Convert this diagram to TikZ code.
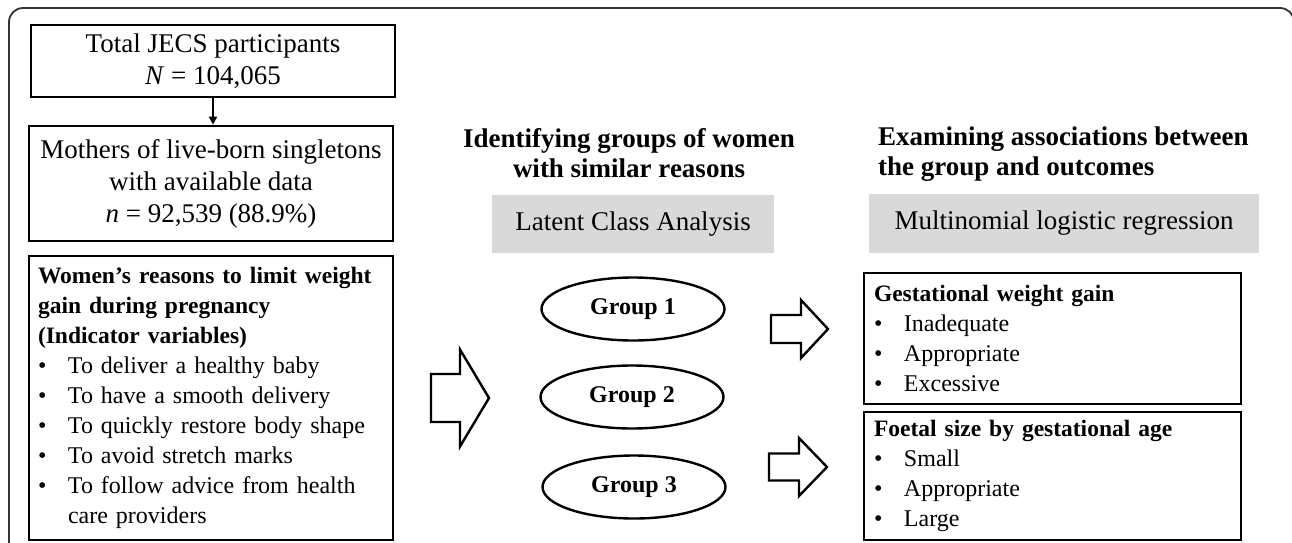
\documentclass[tikz,border=0pt]{standalone}
\usepackage{fontspec}
\setmainfont{Liberation Serif}
\usetikzlibrary{shapes.geometric,arrows.meta}

% bullet line, its continuation and a list title
\newcommand{\itm}[1]{\makebox[30pt][l]{\textbullet}#1}
\newcommand{\cont}[1]{\hspace*{30pt}#1}
\newcommand{\ttl}[1]{\mbox{\fontsize{23.5}{30}\selectfont\bfseries #1}}
% block arrow: left x, mid y, length, head length, shaft half, head half
\newcommand{\fatarrow}[6]{%
  \draw[blockarrow] (#1,{#2-#5}) -- ({#1+#3-#4},{#2-#5}) -- ({#1+#3-#4},{#2-#6})
    -- ({#1+#3},#2) -- ({#1+#3-#4},{#2+#6}) -- ({#1+#3-#4},{#2+#5})
    -- (#1,{#2+#5}) -- cycle;}

\begin{document}
\begin{tikzpicture}[x=1pt, y=-1pt,
    box/.style={draw, line width=2.7pt, inner sep=0pt, align=center,
      minimum width=364pt, font=\fontsize{27}{32}\selectfont},
    listbox/.style={draw, line width=2.7pt, inner xsep=10pt, inner ysep=0pt,
      align=left, font=\fontsize{24}{30}\selectfont},
    heading/.style={font=\fontsize{27}{30}\selectfont\bfseries, inner sep=0pt},
    method/.style={fill=black!15, inner sep=0pt, font=\fontsize{27}{32}\selectfont},
    group/.style={ellipse, draw, line width=2.4pt, inner sep=0pt,
      minimum width=183pt, minimum height=63pt, font=\fontsize{24}{28}\selectfont\bfseries},
    blockarrow/.style={draw, line width=2.4pt, line join=miter},
    frame/.style={draw=black!80, line width=1.8pt, rounded corners=14pt},
  ]
  \useasboundingbox (0,0) rectangle (1292,542);

  % Outer frame
  \begin{scope}
    \clip (0,0) rectangle (1292,542);
    \draw[frame] (9,570) -- (9,8) -- (1294,8) -- (1294,570);
  \end{scope}

  % Study population
  \node[box, minimum height=72pt] (total) at (213,61)
    {Total JECS participants\\\textit{N} = 104,065};
  \node[box, minimum height=115pt] (mothers) at (211,183.5)
    {Mothers of live-born singletons\\with available data\\\textit{n} = 92,539 (88.9\%)};
  \draw[-{Triangle[length=8pt,width=8pt]}, line width=1.8pt]
    (total.south) -- (total.south |- mothers.north);

  % Indicator variables
  \node[listbox, text width=346pt, inner xsep=9pt, minimum height=284pt] (reasons) at (211,398)
    {\ttl{Women’s reasons to limit weight}\\
     \ttl{gain during pregnancy}\\
     \ttl{(Indicator variables)}\\
     \itm{To deliver a healthy baby}\\
     \itm{To have a smooth delivery}\\
     \itm{To quickly restore body shape}\\
     \itm{To avoid stretch marks}\\
     \itm{To follow advice from health}\\
     \cont{care providers}};

  % Latent class analysis
  \node[heading, align=center] (lcahead) at (629,153)
    {Identifying groups of women\\with similar reasons};
  \node[method, minimum width=282pt, minimum height=58pt] (lca) at (633,224)
    {Latent Class Analysis};
  \node[group] (g1) at (633,309) {Group 1};
  \node[group] (g2) at (632,397) {Group 2};
  \node[group] (g3) at (634,487) {Group 3};

  % Regression
  \node[heading, align=left, anchor=west] (reghead) at (878,154)
    {Examining associations between\\the group and outcomes};
  \node[method, minimum width=390pt, minimum height=59pt] (reg) at (1064,223.5)
    {Multinomial logistic regression};
  \node[listbox, text width=357pt, minimum height=131pt] (gwg) at (1052.5,338.5)
    {\ttl{Gestational weight gain}\\
     \itm{Inadequate}\\
     \itm{Appropriate}\\
     \itm{Excessive}};
  \node[listbox, text width=357pt, minimum height=128pt] (fsga) at (1052.5,476)
    {\ttl{Foetal size by gestational age}\\
     \itm{Small}\\
     \itm{Appropriate}\\
     \itm{Large}};

  % Block arrows
  \fatarrow{431}{398}{58}{29}{24}{48.5}
  \fatarrow{771}{329}{57}{27}{14}{29}
  \fatarrow{769}{467}{58}{28}{13.5}{29}

\end{tikzpicture}
\end{document}
